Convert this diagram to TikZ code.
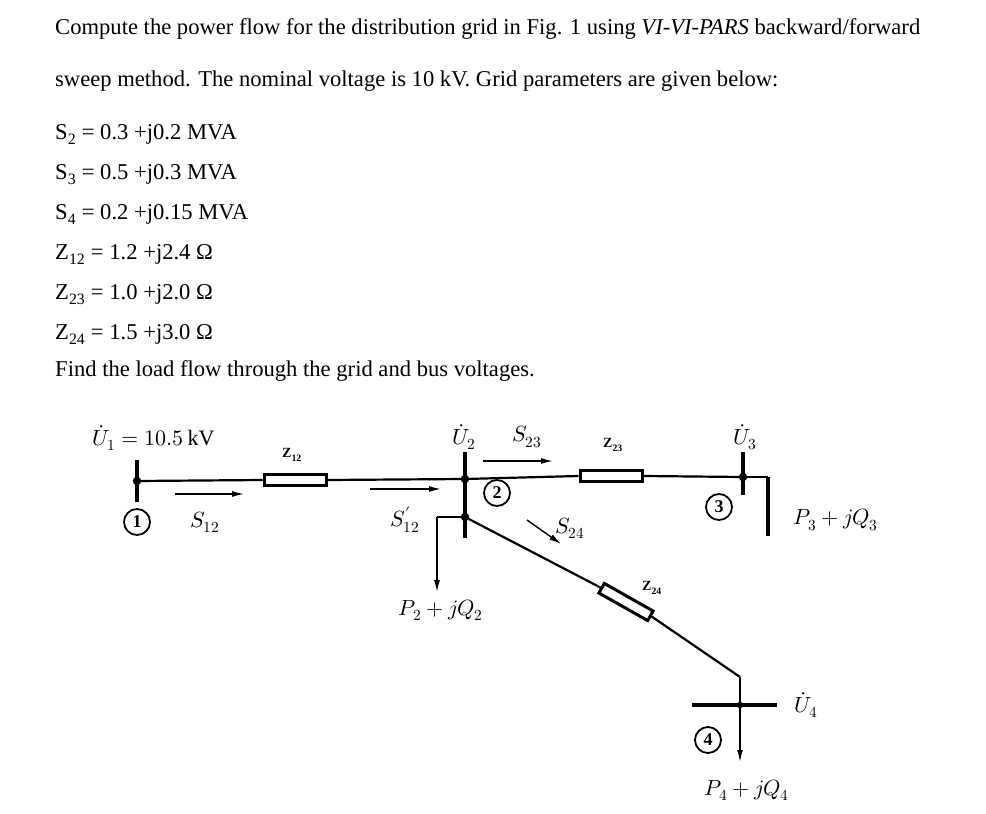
\documentclass[tikz,border=0pt]{standalone}
\usetikzlibrary{arrows.meta}
\usepackage{fontspec}
\setmainfont{Liberation Serif}
\usepackage{amsmath}
\usepackage{unicode-math}
\setmathfont{Latin Modern Math}
\begin{document}
\begin{tikzpicture}[x=1pt,y=-1pt,
  txt/.style={anchor=base west,inner sep=0,font=\fontsize{22.6}{26}\selectfont},
  lbl/.style={inner sep=0,font=\fontsize{22}{26}\selectfont},
  zl/.style={inner sep=0,font=\bfseries\fontsize{14}{16}\selectfont},
  wire/.style={line width=2.2pt},
  bus/.style={line width=4pt},
  res/.style={draw,line width=3pt,fill=white,minimum width=62pt,minimum height=11pt,inner sep=0},
  flow/.style={-{Latex[length=12pt,width=6pt]},line width=1.4pt},
  num/.style={draw,circle,line width=1.8pt,minimum size=26pt,inner sep=0,font=\bfseries\fontsize{18}{20}\selectfont},
  dot/.style={circle,fill=black,draw=black,inner sep=0,minimum size=8pt}]
\useasboundingbox (0,0) rectangle (986,814);
\node[txt] (t1) at (55,34) {Compute the power flow for the distribution grid in Fig. 1 using \textit{VI-VI-PARS} backward/forward};
\node[txt] (t2) at (55,86) {sweep method. The nominal voltage is 10 kV. Grid parameters are given below:};
\node[txt] (t3) at (55,139) {S\textsubscript{2} = 0.3 +j0.2 MVA};
\node[txt] (t4) at (55,179) {S\textsubscript{3} = 0.5 +j0.3 MVA};
\node[txt] (t5) at (55,219) {S\textsubscript{4} = 0.2 +j0.15 MVA};
\node[txt] (t6) at (55,259) {Z\textsubscript{12} = 1.2 +j2.4 Ω};
\node[txt] (t7) at (55,299) {Z\textsubscript{23} = 1.0 +j2.0 Ω};
\node[txt] (t8) at (55,339) {Z\textsubscript{24} = 1.5 +j3.0 Ω};
\node[txt] (t9) at (55,376) {Find the load flow through the grid and bus voltages.};
% bus 1
\coordinate (b1t) at (137,460); \coordinate (b1b) at (137,502);
\draw[bus] (b1t) -- (b1b);
\node[dot] (n1) at (137,481) {};
\coordinate (b2j) at (465,479);
\node[res] (z12) at (295,480) {};
\draw[wire] (n1) -- (z12.west); \draw[wire] (z12.east) -- (b2j);
% bus 2
\coordinate (b2t) at (465,452); \coordinate (b2b) at (465,538);
\draw[bus] (b2t) -- (b2b);
\node[dot] at (b2j) {};
\node[dot] (n2) at (465,517) {};
\coordinate (b3j) at (743,477);
\node[res] (z23) at (611,476) {};
\draw[wire] (b2j) -- (z23.west); \draw[wire] (z23.east) -- (b3j);
% bus 3
\draw[bus] (743,452) -- (743,495);
\node[dot] at (b3j) {};
\coordinate (c3) at (768,477); \coordinate (l3) at (768,536);
\draw[wire] (b3j) -- (c3);
\draw[bus] (c3) -- (l3);
% load 2
\coordinate (c2) at (437,517); \coordinate (l2) at (437,592);
\draw[wire] (n2) -- (c2);
\draw[line width=1.4pt,-{Latex[length=12pt,width=6pt]}] (c2) -- (l2);
% branch 24
\coordinate (k4) at (740,677);
\node[res,minimum width=56pt,rotate=-29.5] (z24) at (626,602) {};
\draw[wire] (n2) -- (z24.west); \draw[wire] (z24.east) -- (k4);
\coordinate (b4) at (740,705);
\draw[wire] (k4) -- (b4);
\draw[bus] (692,705) -- (777,705);
\node[dot,minimum size=6pt] at (b4) {};
\coordinate (l4) at (740,762);
\draw[line width=1.4pt,-{Latex[length=12pt,width=6pt]}] (b4) -- (l4);
% arrows
\coordinate (a1) at (175,494); \coordinate (a2) at (244,494);
\draw[flow] (a1) -- (a2);
\coordinate (a3) at (370,489); \coordinate (a4) at (441,489);
\draw[flow] (a3) -- (a4);
\coordinate (a5) at (483,461); \coordinate (a6) at (553,461);
\draw[flow] (a5) -- (a6);
\coordinate (a7) at (527,520); \coordinate (a8) at (561,544);
\draw[flow] (a7) -- (a8);
% circles
\node[num] (c1) at (137,522) {1};
\node[num] (cc2) at (497,493) {2};
\node[num] (cc3) at (719,507) {3};
\node[num] (cc4) at (708,740) {4};
% labels
\node[lbl,anchor=west] (u1) at (92,438) {$\dot U_1 = 10.5\,\mathrm{kV}$};
\node[lbl] (u2) at (464,437) {$\dot U_2$};
\node[lbl] (s23) at (527,437) {$S_{23}$};
\node[lbl] (u3) at (745,437) {$\dot U_3$};
\node[lbl] (u4) at (806,705) {$\dot U_4$};
\node[lbl] (s12) at (205,522) {$S_{12}$};
\node[lbl] (s12p) at (405,520) {$S_{12}'$};
\node[lbl] (s24) at (570,528) {$S_{24}$};
\node[lbl] (p2) at (441,610) {$P_2 + jQ_2$};
\node[lbl] (p3) at (836,520) {$P_3 + jQ_3$};
\node[lbl] (p4) at (747,790) {$P_4 + jQ_4$};
\node[zl] (zz12) at (292,455) {Z\textsubscript{12}};
\node[zl] (zz23) at (613,445) {Z\textsubscript{23}};
\node[zl] (zz24) at (652,588) {Z\textsubscript{24}};
\end{tikzpicture}
\end{document}
